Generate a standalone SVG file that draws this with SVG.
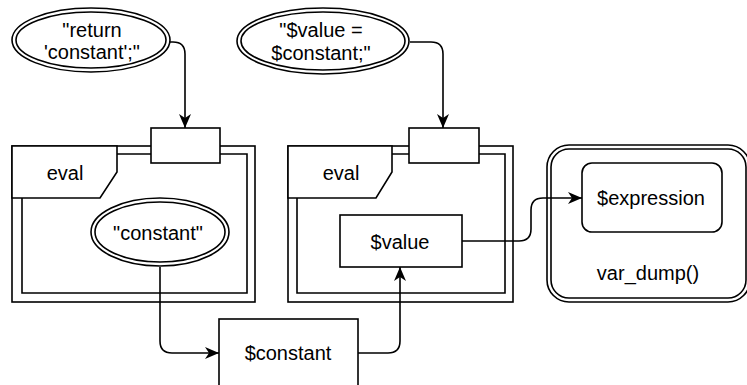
<svg xmlns="http://www.w3.org/2000/svg" width="747" height="385" viewBox="0 0 747 385">
<style>
.s{fill:#fff;stroke:#000;stroke-width:1.6}
.n{fill:none;stroke:#000;stroke-width:1.6}
.c{fill:none;stroke:#000;stroke-width:1.6}
text{font-family:"Liberation Sans",Arial,sans-serif;font-size:20px;fill:#000;text-anchor:middle}
</style>
<defs>
<marker id="a" markerUnits="userSpaceOnUse" viewBox="0 0 14 12" refX="14" refY="6" markerWidth="14" markerHeight="12" orient="auto">
<path d="M0,0 L14,6 L0,12 L4,6 Z" fill="#000"/>
</marker>
</defs>
<g id="eval1">
<rect class="s" x="12" y="146" width="243" height="156"/>
<path class="n" d="M117,154 H247 V293 H22 V198"/>
<path class="s" d="M12,146 H117 V172 L100,198 H12 Z"/>
<text x="65" y="180">eval</text>
<rect class="s" x="151" y="128" width="69" height="35"/>
</g>
<g id="eval2">
<rect class="s" x="288" y="146" width="225" height="156"/>
<path class="n" d="M392,154 H505 V293 H297 V198"/>
<path class="s" d="M288,146 H392 V172 L376,198 H288 Z"/>
<text x="341" y="180">eval</text>
<rect class="s" x="409" y="128" width="70" height="35"/>
</g>
<g id="str1">
<ellipse class="s" cx="91" cy="40" rx="79" ry="32"/>
<ellipse class="n" cx="91" cy="40" rx="75" ry="28"/>
<text x="92" y="37">"return</text>
<text x="92" y="59">'constant';"</text>
</g>
<g id="str2">
<ellipse class="s" cx="323" cy="41" rx="86" ry="33"/>
<ellipse class="n" cx="323" cy="41" rx="82" ry="29"/>
<text x="321" y="37">"$value =</text>
<text x="321" y="60">$constant;"</text>
</g>
<g id="str3">
<ellipse class="s" cx="160" cy="232" rx="69" ry="34"/>
<ellipse class="n" cx="160" cy="232" rx="65" ry="30"/>
<text x="158" y="240">"constant"</text>
</g>
<g id="value">
<rect class="s" x="340" y="215" width="122" height="52"/>
<text x="400" y="249">$value</text>
</g>
<g id="constant">
<rect class="s" x="219" y="319" width="139" height="72"/>
<text x="288" y="360">$constant</text>
</g>
<g id="vardump">
<rect class="s" x="547" y="145" width="203" height="157" rx="22"/>
<rect class="n" x="551" y="149" width="195" height="149" rx="18"/>
<rect class="s" x="582" y="163" width="140" height="69" rx="10"/>
<text x="651" y="205">$expression</text>
<text x="648" y="280">var_dump()</text>
</g>
<g id="connectors">
<path class="c" d="M170,42 H173 Q185,42 185,54 V128" marker-end="url(#a)"/>
<path class="c" d="M410,42 H431 Q443,42 443,54 V128" marker-end="url(#a)"/>
<path class="c" d="M160,267 V341 Q160,353 172,353 H219" marker-end="url(#a)"/>
<path class="c" d="M358,353 H388 Q400,353 400,341 V267" marker-end="url(#a)"/>
<path class="c" d="M462,241 H519 Q531,241 531,229 V210 Q531,198 543,198 H582" marker-end="url(#a)"/>
</g>
</svg>
